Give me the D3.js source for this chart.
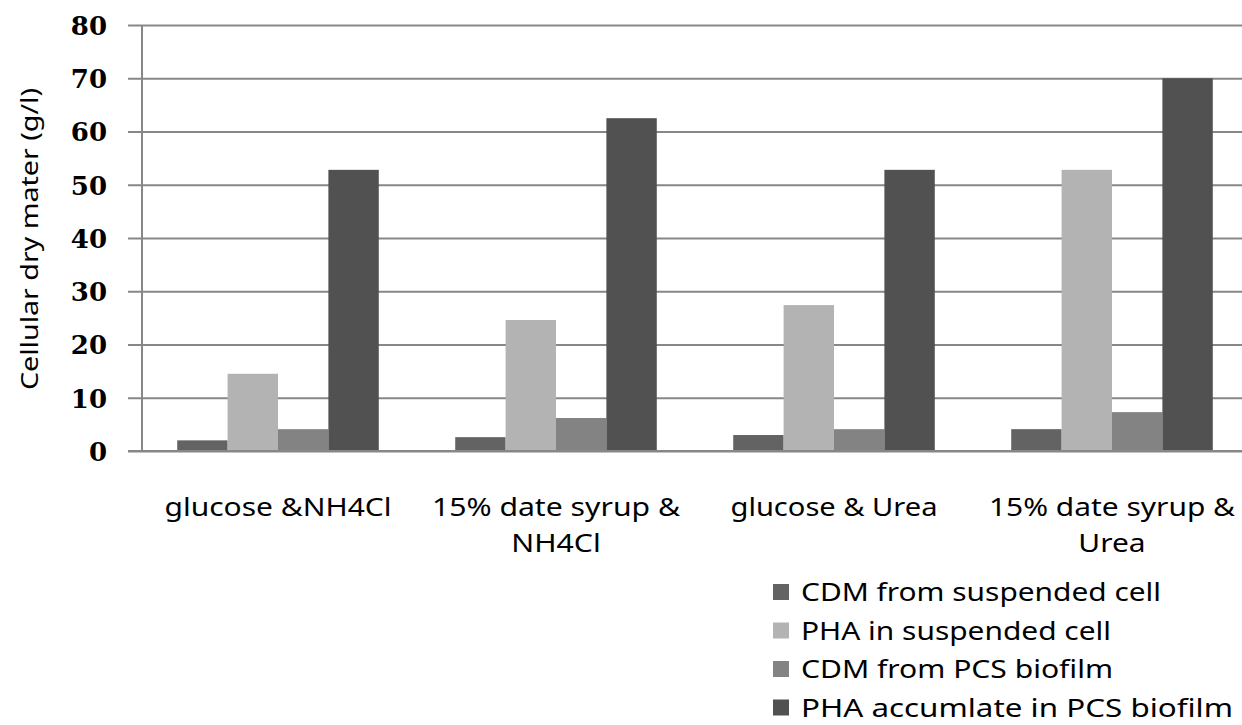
<!DOCTYPE html>
<html>
<head>
<meta charset="utf-8">
<script src="https://cdn.jsdelivr.net/npm/d3@7/dist/d3.min.js"></script>
<style>
  html, body { margin: 0; padding: 0; background: #fff; }
  svg { display: block; }
</style>
</head>
<body>
<svg id="chart" width="1242" height="725"></svg>
<script>
// Culture conditions (x categories); each label is split over lines
const categories = [
  "glucose &NH4Cl",
  "15% date syrup & NH4Cl",
  "glucose & Urea",
  "15% date syrup & Urea"
];
const categoryLines = [
  ["glucose &NH4Cl"],
  ["15% date syrup &", "NH4Cl"],
  ["glucose & Urea"],
  ["15% date syrup &", "Urea"]
];

// Series names
const seriesNames = [
  "CDM from suspended cell",
  "PHA in suspended cell",
  "CDM from PCS biofilm",
  "PHA accumlate in PCS biofilm"
];

// Values in g/l, one entry per category
const cdmSuspended = [2.0, 2.6, 3.0, 4.1];
const phaSuspended = [14.5, 24.6, 27.4, 52.8];
const cdmBiofilm   = [4.1, 6.2, 4.1, 7.3];
const phaBiofilm   = [52.8, 62.5, 52.8, 70.0];

const yTicks = [0, 10, 20, 30, 40, 50, 60, 70, 80];
const yTitle = "Cellular dry mater (g/l)";

const seriesValues = [cdmSuspended, phaSuspended, cdmBiofilm, phaBiofilm];
const colors = ["#636363", "#b3b3b3", "#838383", "#515151"];

const svg = d3.select("#chart");
const W = 1242, H = 725;
svg.append("rect").attr("width", W).attr("height", H).attr("fill", "#fff");

const plotLeft = 142, plotRight = 1242, plotTop = 25, plotBottom = 451;
const gridColor = "#878787";

const y = d3.scaleLinear().domain([0, 80]).range([plotBottom, plotTop]);
const x0 = d3.scaleBand().domain(categories).range([139, 1251]).padding(0);
const groupWidth = x0.bandwidth() * 0.725;
const x1 = d3.scaleBand().domain(seriesNames)
  .range([(x0.bandwidth() - groupWidth) / 2, (x0.bandwidth() + groupWidth) / 2])
  .padding(0);

// Horizontal gridlines with short tick marks to the left of the axis
const yAxis = d3.axisLeft(y).tickValues(yTicks).tickSize(-(plotRight - plotLeft)).tickFormat(d3.format("d"));
const gAxis = svg.append("g").attr("transform", `translate(${plotLeft},0)`).call(yAxis);
gAxis.select(".domain").remove();
gAxis.selectAll(".tick line")
  .attr("x1", -14)
  .attr("stroke", gridColor)
  .attr("stroke-width", 2);
gAxis.selectAll(".tick text")
  .attr("x", -35)
  .attr("dy", "0.36em")
  .attr("fill", "#000")
  .style("font-family", "'DejaVu Serif', 'Liberation Serif', serif")
  .style("font-weight", "bold")
  .style("font-size", "26px");

// Vertical axis line
svg.append("line")
  .attr("x1", plotLeft).attr("x2", plotLeft)
  .attr("y1", y(80)).attr("y2", y(0))
  .attr("stroke", gridColor).attr("stroke-width", 2);

// Bars
const groups = svg.append("g").selectAll("g")
  .data(categories)
  .join("g")
  .attr("transform", d => `translate(${x0(d)},0)`);

groups.selectAll("rect")
  .data((d, i) => seriesNames.map((s, k) => ({ s, k, v: seriesValues[k][i] })))
  .join("rect")
  .attr("x", d => x1(d.s))
  .attr("width", x1.bandwidth())
  .attr("y", d => y(d.v))
  .attr("height", d => y(0) - y(d.v))
  .attr("fill", d => colors[d.k]);

// Baseline drawn over the bars
svg.append("line")
  .attr("x1", plotLeft - 14).attr("x2", plotRight)
  .attr("y1", y(0)).attr("y2", y(0))
  .attr("stroke", gridColor).attr("stroke-width", 2);

// Category labels: first line fitted to its width, the rest use the same squeeze
const labelFont = "'Noto Sans', 'Liberation Sans', sans-serif";
const firstLineWidths = [227, 248, 207, 246];
categories.forEach((c, i) => {
  const cx = x0(c) + x0.bandwidth() / 2;
  let ratio = 1;
  categoryLines[i].forEach((line, j) => {
    const t = svg.append("text")
      .attr("x", cx)
      .attr("y", 516 + j * 36)
      .attr("text-anchor", "middle")
      .style("font-family", labelFont)
      .style("font-size", "26px")
      .attr("fill", "#000")
      .text(line);
    const natural = t.node().getComputedTextLength();
    if (j === 0) ratio = firstLineWidths[i] / natural;
    t.attr("textLength", natural * ratio).attr("lengthAdjust", "spacingAndGlyphs");
  });
});

// Y axis title
svg.append("text")
  .attr("transform", "translate(38,239) rotate(-90)")
  .attr("text-anchor", "middle")
  .attr("textLength", 302)
  .attr("lengthAdjust", "spacingAndGlyphs")
  .style("font-family", labelFont)
  .style("font-size", "24px")
  .attr("fill", "#000")
  .text(yTitle);

// Legend
const legendWidths = [360, 310, 312, 432];
const legend = svg.append("g").selectAll("g")
  .data(seriesNames)
  .join("g")
  .attr("transform", (d, i) => `translate(773,${592 + i * 38.5})`);
legend.append("rect")
  .attr("x", 0).attr("y", -8)
  .attr("width", 16).attr("height", 16)
  .attr("fill", (d, i) => colors[i]);
legend.append("text")
  .attr("x", 28)
  .attr("y", 9)
  .attr("textLength", (d, i) => legendWidths[i])
  .attr("lengthAdjust", "spacingAndGlyphs")
  .style("font-family", labelFont)
  .style("font-size", "25px")
  .attr("fill", "#000")
  .text(d => d);
</script>
</body>
</html>
